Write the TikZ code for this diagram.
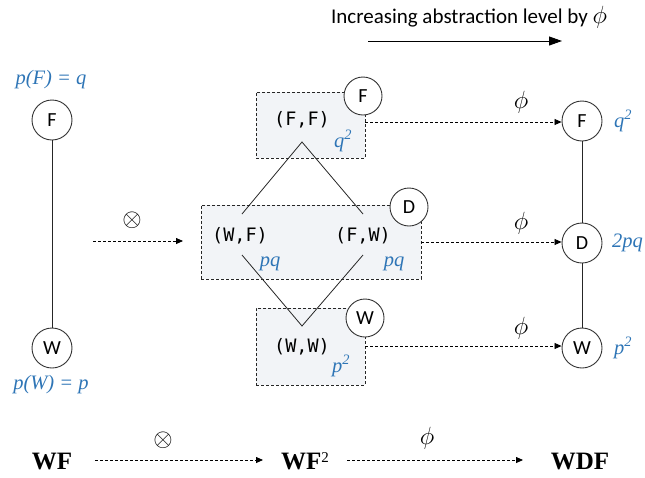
\documentclass[tikz,border=0pt]{standalone}
\usepackage{fontspec}
\setmainfont{Liberation Serif}
\newfontfamily\calib{Carlito}
\newfontfamily\monof{DejaVu Sans Mono}
\usetikzlibrary{arrows.meta}
\definecolor{lblblue}{HTML}{2E75B6}
\definecolor{boxfill}{HTML}{F2F4F7}
\tikzset{
  st/.style={circle,draw=black!80,line width=0.9pt,fill=white,minimum size=40pt,inner sep=0pt,font=\calib\fontsize{20}{20}\selectfont},
  pairbox/.style={draw=black!85,dashed,dash pattern=on 3pt off 2pt,line width=0.8pt,fill=boxfill},
  pairtxt/.style={font=\monof\fontsize{18.5}{18.5}\selectfont,inner sep=0pt},
  blue/.style={text=lblblue,font=\fontsize{20.5}{20.5}\selectfont\itshape,inner sep=0pt},
  lbl/.style={font=\fontsize{23}{23}\selectfont,inner sep=0pt},
  otl/.style={font=\fontsize{27}{27}\selectfont,inner sep=0pt},
  big/.style={font=\fontsize{25}{25}\selectfont\bfseries,inner sep=0pt},
  darr/.style={dashed,dash pattern=on 3pt off 2pt,line width=0.8pt,-{Triangle[length=7pt,width=6pt]}},
  sline/.style={line width=0.8pt,black!85},
}
\begin{document}
\begin{tikzpicture}[x=1pt,y=-1pt]
\useasboundingbox (0,0) rectangle (645,477);
% header
\node[font=\calib\fontsize{21}{21}\selectfont,inner sep=0pt] (hdr) at (469,17) {Increasing abstraction level by {\fontsize{23}{23}\selectfont$\phi$}};
\coordinate (ha) at (368,41);
\coordinate (hb) at (562,41);
\draw[line width=0.9pt,-{Triangle[length=13pt,width=9pt]}] (ha) -- (hb);

% left
\node[st] (lF) at (52,120) {F};
\node[st] (lW) at (52,348) {W};
\draw[sline] (lF) -- (lW);
\node[blue] (pF) at (51,80) {p(F) = q};
\node[blue] (pW) at (51,385) {p(W) = p};

% otimes arrow
\coordinate (oa) at (93,241);
\coordinate (ob) at (183,241);
\draw[darr] (oa) -- (ob);
\node[otl] (ot) at (132,220) {$\otimes$};

% boxes
\node[pairbox,minimum width=109pt,minimum height=66pt,inner sep=0pt] (boxT) at (310.5,125) {};
\node[pairbox,minimum width=220pt,minimum height=74pt,inner sep=0pt] (boxM) at (311,242) {};
\node[pairbox,minimum width=109pt,minimum height=77pt,inner sep=0pt] (boxB) at (310.5,346.5) {};

\node[pairtxt] (FF) at (302,120) {(F,F)};
\node[blue] (q2a) at (343,141) {q\textsuperscript{2}};
\node[pairtxt] (WF) at (240,236) {(W,F)};
\node[pairtxt] (FW) at (363,236) {(F,W)};
\node[blue] (pq1) at (270,264) {pq};
\node[blue] (pq2) at (394,264) {pq};
\node[pairtxt] (WW) at (302,347) {(W,W)};
\node[blue] (p2a) at (341,366) {p\textsuperscript{2}};

% lattice lines
\coordinate (ta) at (302,142);
\coordinate (tl) at (242,214);
\coordinate (tr) at (363,214);
\coordinate (bl) at (242,255);
\coordinate (br) at (363,255);
\coordinate (ba) at (302,326);
\draw[sline] (tl) -- (ta) -- (tr);
\draw[sline] (bl) -- (ba) -- (br);

% corner circles
\node[st,minimum size=38pt] (cF) at (363,96) {F};
\node[st,minimum size=38pt] (cD) at (409,207) {D};
\node[st,minimum size=38pt] (cW) at (365,318) {W};

% right
\node[st] (rF) at (582,121) {F};
\node[st] (rD) at (582,243) {D};
\node[st] (rW) at (582,348) {W};
\draw[sline] (rF) -- (rD) -- (rW);
\node[blue,anchor=west] (q2b) at (614,121) {q\textsuperscript{2}};
\node[blue,anchor=west] (pq3) at (612,243) {2pq};
\node[blue,anchor=west] (p2b) at (614,348) {p\textsuperscript{2}};

% phi arrows
\coordinate (aT) at (365,122);
\coordinate (aM) at (421,242);
\coordinate (aB) at (365,346);
\draw[darr] (aT) -- (rF.west |- aT);
\draw[darr] (aM) -- (rD.west |- aM);
\draw[darr] (aB) -- (rW.west |- aB);
\node[lbl] (ph1) at (521,102) {$\phi$};
\node[lbl] (ph2) at (521,223) {$\phi$};
\node[lbl] (ph3) at (521,328) {$\phi$};

% bottom
\node[big] (bWF) at (52,461) {WF};
\node[big] (bWF2) at (305,461) {WF\raisebox{7pt}{\mdseries\fontsize{15}{15}\selectfont 2}};
\node[big] (bWDF) at (580,461) {WDF};
\coordinate (b1) at (95,460);
\coordinate (b2) at (263,460);
\coordinate (b3) at (347,460);
\coordinate (b4) at (523,460);
\draw[darr] (b1) -- (b2);
\draw[darr] (b3) -- (b4);
\node[otl] (ot2) at (163,440) {$\otimes$};
\node[lbl] (ph4) at (427,438) {$\phi$};
\end{tikzpicture}
\end{document}
